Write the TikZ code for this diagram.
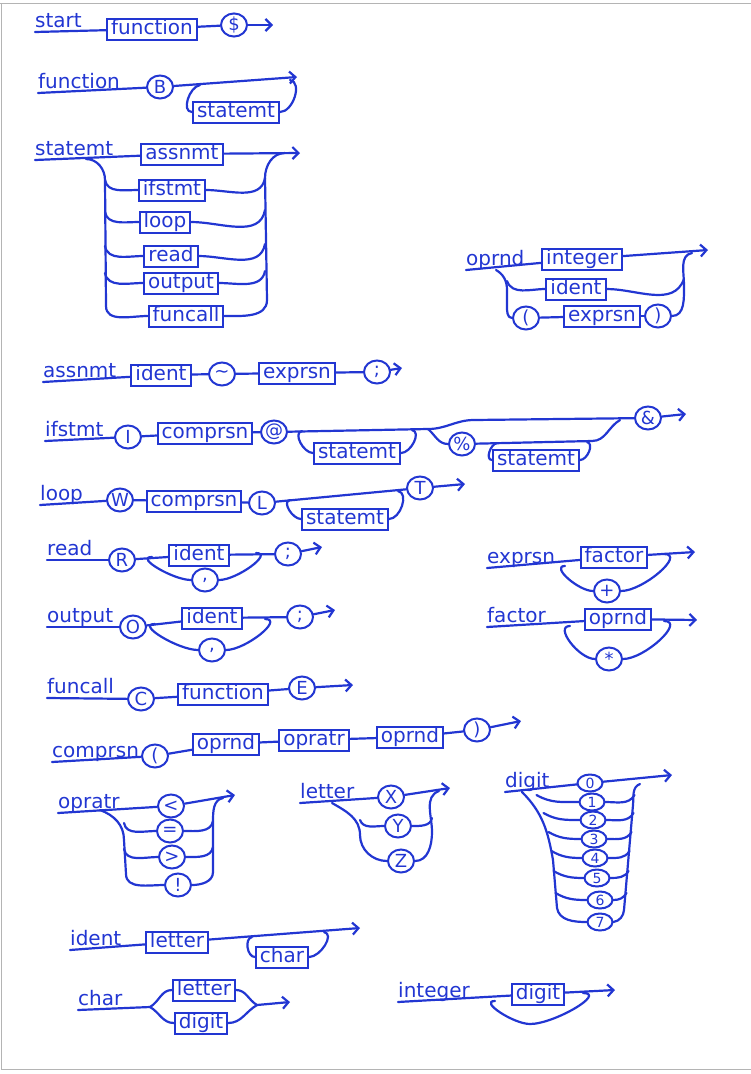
\documentclass[tikz,border=0pt]{standalone}
\usepackage{fontspec}
\setmainfont{DejaVu Sans}
\usetikzlibrary{positioning, calc, arrows.meta, shapes.geometric}
\definecolor{Ink}{HTML}{2236D2}
\definecolor{Frame}{HTML}{B4B4B4}
\tikzset{
    rulename/.style={anchor=south west, inner xsep=0pt, inner ysep=4pt, text depth=0pt, text=Ink, font=\fontsize{20}{20}\selectfont},
    rulebox/.style={rectangle, draw=Ink, line width=2pt, text=Ink, inner xsep=4pt, inner ysep=1.5pt, text height=14pt, text depth=4pt, font=\fontsize{20}{20}\selectfont},
    term/.style={ellipse, draw=Ink, line width=2pt, text=Ink, inner sep=0pt, minimum width=26pt, minimum height=23pt, font=\fontsize{18}{18}\selectfont},
    digitterm/.style={minimum width=25pt, minimum height=17pt, font=\fontsize{14}{14}\selectfont},
    wire/.style={draw=Ink, line width=2.2pt, line cap=round, line join=round},
    flow/.style={wire, -{Straight Barb[length=6pt, width=12pt]}},
}
\begin{document}
\begin{tikzpicture}[x=1pt, y=-1pt]
    \useasboundingbox (0,0) rectangle (751,1074);
    % cornice
    \draw[Frame, line width=1pt] (0,3) -- (751,3) (1,3) -- (1,1069) -- (751,1069);

    % start
    \node[rulename] (startname) at (35,32) {start};
    \node[rulebox] (startfun) at (152,29) {function};
    \node[term] (dollar) at (234,25) {\$};
    \coordinate (startend) at (273,25);
    \draw[wire] (startname.south west) -- (startfun);
    \draw[wire] (startfun) -- (dollar);
    \draw[flow] (dollar) -- (startend);

    % function
    \node[rulename] (funname) at (38,93) {function};
    \node[term] (bee) at (160,87) {B};
    \node[rulebox] (funstmt) at (236,112) {statemt};
    \coordinate (funend) at (297,77);
    \coordinate (funa) at (200,85);
    \coordinate (funb) at (290,80);
    \draw[wire] (funname.south west) -- (bee);
    \draw[flow] (bee) -- (funend);
    \draw[wire] (funa) to[out=190, in=180] (funstmt.west);
    \draw[wire] (funstmt.east) to[out=0, in=-10] (funb);

    % statemt
    \node[rulename] (stmtname) at (35,160) {statemt};
    \node[rulebox] (asn) at (182,154) {assnmt};
    \node[rulebox] (ifs) at (172,190) {ifstmt};
    \node[rulebox] (lp) at (165,222) {loop};
    \node[rulebox] (rd) at (171,256) {read};
    \node[rulebox] (outp) at (181,283) {output};
    \node[rulebox] (fcall) at (186,316) {funcall};
    \coordinate (stend) at (300,153);
    \coordinate (stsplit) at (86,159);
    \coordinate (strailL) at (105,180);
    \coordinate (strailLb) at (106,306);
    \coordinate (stjoin) at (285,153);
    \coordinate (strailR) at (265,178);
    \coordinate (strailRb) at (267,300);
    \draw[wire] (stmtname.south west) -- (asn);
    \draw[flow] (asn) -- (stend);
    \draw[wire] (stsplit) to[out=0, in=90] (strailL) -- (strailLb) to[out=-90, in=180] (fcall.west);
    \draw[wire] (fcall.east) to[out=0, in=-90] (strailRb) -- (strailR) to[out=90, in=180] (stjoin);
    \foreach \b in {ifs, lp, rd, outp} {
        \draw[wire] ([yshift=10pt]\b.west -| strailL) to[out=-80, in=180] (\b.west);
        \draw[wire] (\b.east) to[out=0, in=-100] ([yshift=12pt]\b.east -| strailR);
    }

    % oprnd
    \node[rulename] (opdname) at (466,270) {oprnd};
    \node[rulebox] (opdint) at (582,259) {integer};
    \node[rulebox] (opdid) at (576,289) {ident};
    \node[term] (opdlp) at (526,318) {(};
    \node[rulebox] (opdex) at (602,316) {exprsn};
    \node[term] (opdrp) at (658,316) {)};
    \coordinate (opdend) at (708,250);
    \coordinate (opdsplit) at (496,270);
    \coordinate (opdrailL) at (507,290);
    \coordinate (opdrailLb) at (507,306);
    \coordinate (opdrailR) at (684,285);
    \coordinate (opdjoin) at (692,253);
    \draw[wire] (opdname.south west) -- (opdint);
    \draw[flow] (opdint) -- (opdend);
    \draw[wire] (opdsplit) to[out=-30, in=90] (opdrailL) -- (opdrailLb) to[out=-90, in=180] (opdlp.west);
    \draw[wire] ([yshift=8pt]opdid.west -| opdrailL) to[out=-70, in=180] (opdid.west);
    \draw[wire] (opdlp) -- (opdex);
    \draw[wire] (opdex) -- (opdrp);
    \draw[wire] (opdrp.east) to[out=0, in=-90] (opdrailR) to[out=90, in=190] (opdjoin);
    \draw[wire] (opdid.east) to[out=0, in=-110] ([yshift=10pt]opdid.east -| opdrailR);

    % assnmt
    \node[rulename] (asnname) at (43,382) {assnmt};
    \node[rulebox] (asnid) at (161,375) {ident};
    \node[term] (tilde) at (222,374) {\textasciitilde};
    \node[rulebox] (asnex) at (297,373) {exprsn};
    \node[term] (asnsemi) at (377,372) {;};
    \coordinate (asnend) at (402,368);
    \draw[wire] (asnname.south west) -- (asnid);
    \draw[wire] (asnid) -- (tilde);
    \draw[wire] (tilde) -- (asnex);
    \draw[wire] (asnex) -- (asnsemi);
    \draw[flow] (asnsemi) -- (asnend);

    % ifstmt
    \node[rulename] (ifname) at (45,441) {ifstmt};
    \node[term] (ifI) at (128,437) {I};
    \node[rulebox] (ifcmp) at (205,433) {comprsn};
    \node[term] (ifat) at (274,432) {@};
    \node[rulebox] (ifthen) at (357,453) {statemt};
    \node[term] (ifpct) at (462,444) {\%};
    \node[rulebox] (ifelse) at (536,460) {statemt};
    \node[term] (ifamp) at (648,418) {\&};
    \coordinate (ifend) at (686,414);
    \coordinate (iffork) at (428,429);
    \coordinate (ifupper) at (474,420);
    \coordinate (iflow) at (592,441);
    \coordinate (ifmerge) at (620,420);
    \coordinate (ifa) at (302,431);
    \coordinate (ifb) at (412,430);
    \coordinate (ifc) at (497,443);
    \coordinate (ifd) at (587,442);
    \draw[wire] (ifname.south west) -- (ifI);
    \draw[wire] (ifI) -- (ifcmp);
    \draw[wire] (ifcmp) -- (ifat);
    \draw[wire] (ifat) -- (iffork) to[out=0, in=180] (ifupper) -- (ifamp);
    \draw[flow] (ifamp) -- (ifend);
    \draw[wire] (ifa) to[out=190, in=180] (ifthen.west);
    \draw[wire] (ifthen.east) to[out=0, in=-10] (ifb);
    \draw[wire] (iffork) to[out=-40, in=180] (ifpct.west);
    \draw[wire] (ifpct) -- (iflow) to[out=0, in=210] (ifmerge);
    \draw[wire] (ifc) to[out=190, in=180] (ifelse.west);
    \draw[wire] (ifelse.east) to[out=0, in=-10] (ifd);

    % loop
    \node[rulename] (loopname) at (40,505) {loop};
    \node[term] (loopW) at (120,500) {W};
    \node[rulebox] (loopcmp) at (194,501) {comprsn};
    \node[term] (loopL) at (262,503) {L};
    \node[rulebox] (loopbody) at (345,519) {statemt};
    \node[term] (loopT) at (420,488) {T};
    \coordinate (loopend) at (465,484);
    \coordinate (loopa) at (290,500);
    \coordinate (loopb) at (398,491);
    \draw[wire] (loopname.south west) -- (loopW);
    \draw[wire] (loopW) -- (loopcmp);
    \draw[wire] (loopcmp) -- (loopL);
    \draw[wire] (loopL) -- (loopT);
    \draw[flow] (loopT) -- (loopend);
    \draw[wire] (loopa) to[out=190, in=180] (loopbody.west);
    \draw[wire] (loopbody.east) to[out=0, in=-10] (loopb);

    % read
    \node[rulename] (readname) at (47,560) {read};
    \node[term] (readR) at (122,560) {R};
    \node[rulebox] (readid) at (199,555) {ident};
    \node[term] (readcom) at (205,580) {,};
    \node[term] (readsemi) at (288,554) {;};
    \coordinate (readend) at (322,547);
    \coordinate (reada) at (152,557);
    \coordinate (readb) at (256,553);
    \draw[wire] (readname.south west) -- (readR);
    \draw[wire] (readR) -- (readid);
    \draw[wire] (readid) -- (readsemi);
    \draw[flow] (readsemi) -- (readend);
    \draw[wire] (readb) to[out=0, in=0] (readcom.east);
    \draw[wire] (readcom.west) to[out=180, in=180] (reada);

    % output
    \node[rulename] (outname) at (47,627) {output};
    \node[term] (outO) at (133,627) {O};
    \node[rulebox] (outid) at (212,618) {ident};
    \node[term] (outcom) at (212,650) {,};
    \node[term] (outsemi) at (300,617) {;};
    \coordinate (outend) at (335,610);
    \coordinate (outa) at (155,624);
    \coordinate (outb) at (265,619);
    \draw[wire] (outname.south west) -- (outO);
    \draw[wire] (outO) -- (outid);
    \draw[wire] (outid) -- (outsemi);
    \draw[flow] (outsemi) -- (outend);
    \draw[wire] (outb) to[out=0, in=0] (outcom.east);
    \draw[wire] (outcom.west) to[out=180, in=180] (outa);

    % funcall
    \node[rulename] (fcname) at (47,698) {funcall};
    \node[term] (fcC) at (141,699) {C};
    \node[rulebox] (fcfun) at (223,694) {function};
    \node[term] (fcE) at (302,688) {E};
    \coordinate (fcend) at (353,685);
    \draw[wire] (fcname.south west) -- (fcC);
    \draw[wire] (fcC) -- (fcfun);
    \draw[wire] (fcfun) -- (fcE);
    \draw[flow] (fcE) -- (fcend);

    % exprsn
    \node[rulename] (exname) at (487,568) {exprsn};
    \node[rulebox] (exfac) at (614,557) {factor};
    \node[term] (explus) at (607,591) {+};
    \coordinate (exend) at (695,552);
    \coordinate (exa) at (565,566);
    \coordinate (exb) at (664,554);
    \draw[wire] (exname.south west) -- (exfac);
    \draw[flow] (exfac) -- (exend);
    \draw[wire] (exb) to[out=0, in=0] (explus.east);
    \draw[wire] (explus.west) to[out=180, in=180] (exa);

    % factor
    \node[rulename] (facname) at (487,627) {factor};
    \node[rulebox] (facop) at (618,619) {oprnd};
    \node[term] (facstar) at (609,659) {*};
    \coordinate (facend) at (697,620);
    \coordinate (faca) at (570,626);
    \coordinate (facb) at (664,621);
    \draw[wire] (facname.south west) -- (facop);
    \draw[flow] (facop) -- (facend);
    \draw[wire] (facb) to[out=0, in=0] (facstar.east);
    \draw[wire] (facstar.west) to[out=180, in=180] (faca);

    % comprsn
    \node[rulename] (cmpname) at (52,762) {comprsn};
    \node[term] (cmplp) at (155,756) {(};
    \node[rulebox] (cmpa) at (226,744) {oprnd};
    \node[rulebox] (cmpop) at (314,740) {opratr};
    \node[rulebox] (cmpb) at (410,737) {oprnd};
    \node[term] (cmprp) at (477,730) {)};
    \coordinate (cmpend) at (521,721);
    \draw[wire] (cmpname.south west) -- (cmplp);
    \draw[wire] (cmplp) -- (cmpa);
    \draw[wire] (cmpa) -- (cmpop);
    \draw[wire] (cmpop) -- (cmpb);
    \draw[wire] (cmpb) -- (cmprp);
    \draw[flow] (cmprp) -- (cmpend);

    % opratr
    \node[rulename] (optname) at (58,813) {opratr};
    \node[term] (oplt) at (171,806) {<};
    \node[term] (opeq) at (170,831) {=};
    \node[term] (opgt) at (172,857) {>};
    \node[term] (opnot) at (178,885) {!};
    \coordinate (optend) at (235,795);
    \coordinate (optsplit) at (100,810);
    \coordinate (optrailL) at (124,840);
    \coordinate (optrailLb) at (126,874);
    \coordinate (optrailR) at (213,822);
    \coordinate (optrailRb) at (213,872);
    \coordinate (optjoin) at (223,798);
    \draw[wire] (optname.south west) -- (oplt);
    \draw[flow] (oplt) -- (optend);
    \draw[wire] (optsplit) to[out=-20, in=90] (optrailL) -- (optrailLb) to[out=-90, in=180] (opnot.west);
    \draw[wire] (opnot.east) to[out=0, in=-90] (optrailRb) -- (optrailR) to[out=90, in=190] (optjoin);
    \foreach \b in {opeq, opgt} {
        \draw[wire] ([yshift=8pt]\b.west -| optrailL) to[out=-80, in=180] (\b.west);
        \draw[wire] (\b.east) to[out=0, in=-100] ([yshift=10pt]\b.east -| optrailR);
    }

    % letter
    \node[rulename] (letname) at (300,803) {letter};
    \node[term] (letX) at (391,797) {X};
    \node[term] (letY) at (398,826) {Y};
    \node[term] (letZ) at (401,861) {Z};
    \coordinate (letend) at (450,788);
    \coordinate (letsplit) at (332,803);
    \coordinate (letrailL) at (360,835);
    \coordinate (letrailR) at (432,832);
    \coordinate (letjoin) at (439,791);
    \draw[wire] (letname.south west) -- (letX);
    \draw[flow] (letX) -- (letend);
    \draw[wire] (letsplit) to[out=-30, in=90] (letrailL) to[out=-90, in=180] (letZ.west);
    \draw[wire] ([yshift=6pt]letY.west -| letrailL) to[out=-70, in=180] (letY.west);
    \draw[wire] (letZ.east) to[out=0, in=-90] (letrailR) to[out=90, in=200] (letjoin);
    \draw[wire] (letY.east) to[out=0, in=-100] ([yshift=8pt]letY.east -| letrailR);

    % digit
    \node[rulename] (digname) at (505,792) {digit};
    \foreach \d/\x/\y in {0/590/783, 1/592/802, 2/593/820, 3/594/839, 4/595/858, 5/597/878, 6/600/900, 7/600/922}
        \node[term, digitterm] (dig\d) at (\x,\y) {\d};
    \coordinate (digend) at (672,775);
    \coordinate (digsplit) at (522,792);
    \coordinate (digrailL) at (553,860);
    \coordinate (digrailLb) at (557,908);
    \coordinate (digjoin) at (640,784);
    \coordinate (digrailR) at (633,805);
    \coordinate (digrailRb) at (624,910);
    \draw[wire] (digname.south west) -- (dig0);
    \draw[flow] (dig0) -- (digend);
    \draw[wire] (digsplit) to[out=-45, in=100] (digrailL) -- (digrailLb) to[out=-80, in=180] (dig7.west);
    \draw[wire] (dig7.east) to[out=10, in=-95] (digrailRb) -- (digrailR) to[out=85, in=200] (digjoin);
    \foreach \d/\dx in {1/-42, 2/-36, 3/-32, 4/-30, 5/-30, 6/-31}
        \draw[wire] ([xshift=\dx pt, yshift=7pt]dig\d.west) to[out=-30, in=180] (dig\d.west);
    \foreach \d/\dx in {1/29, 2/27, 3/24, 4/21, 5/18, 6/13}
        \draw[wire] (dig\d.east) to[out=0, in=-120] ([xshift=\dx pt, yshift=7pt]dig\d.east);

    % ident
    \node[rulename] (idname) at (70,950) {ident};
    \node[rulebox] (idlet) at (177,942) {letter};
    \node[rulebox] (idchar) at (282,957) {char};
    \coordinate (idend) at (360,928);
    \coordinate (ida) at (252,937);
    \coordinate (idb) at (324,932);
    \draw[wire] (idname.south west) -- (idlet);
    \draw[flow] (idlet) -- (idend);
    \draw[wire] (ida) to[out=190, in=180] (idchar.west);
    \draw[wire] (idchar.east) to[out=0, in=-10] (idb);

    % char
    \node[rulename] (chname) at (78,1010) {char};
    \node[rulebox] (chlet) at (204,990) {letter};
    \node[rulebox] (chdig) at (201,1023) {digit};
    \coordinate (chsplit) at (150,1007);
    \coordinate (chmerge) at (257,1005);
    \coordinate (chend) at (290,1002);
    \draw[wire] (chname.south west) -- (chsplit);
    \draw[wire] (chsplit) to[out=30, in=180] (chlet.west);
    \draw[wire] (chsplit) to[out=-30, in=180] (chdig.west);
    \draw[wire] (chlet.east) to[out=0, in=150] (chmerge);
    \draw[wire] (chdig.east) to[out=0, in=-150] (chmerge);
    \draw[flow] (chmerge) -- (chend);

    % integer
    \node[rulename] (intname) at (398,1002) {integer};
    \node[rulebox] (intdig) at (538,994) {digit};
    \coordinate (intend) at (615,990);
    \coordinate (inta) at (495,1001);
    \coordinate (intb) at (583,993);
    \coordinate (intbot) at (530,1024);
    \draw[wire] (intname.south west) -- (intdig);
    \draw[flow] (intdig) -- (intend);
    \draw[wire] (intb) to[out=0, in=0] (intbot) to[out=180, in=180] (inta);
\end{tikzpicture}
\end{document}
